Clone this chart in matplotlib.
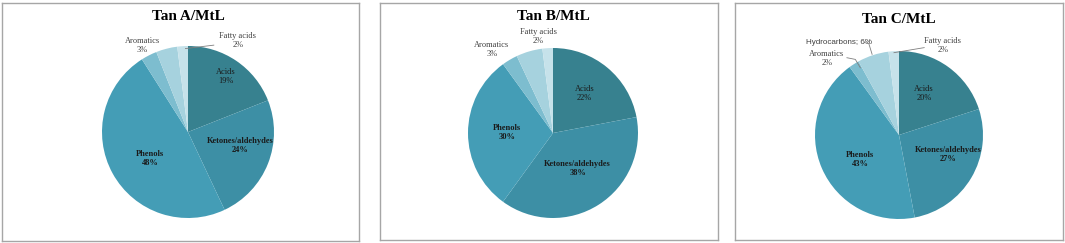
import matplotlib
matplotlib.use("Agg")
import matplotlib.pyplot as plt

# ---- data ----
categories = ["Acids", "Ketones/aldehydes", "Phenols", "Aromatics", "Hydrocarbons", "Fatty acids"]
titles = ["Tan A/MtL", "Tan B/MtL", "Tan C/MtL"]
tan_a = [19, 24, 48, 3, 4, 2]
tan_b = [22, 38, 30, 3, 5, 2]
tan_c = [20, 27, 43, 2, 6, 2]
series = [tan_a, tan_b, tan_c]

colors = ["#37818f", "#3d8fa5", "#449db6", "#7dbdcf", "#a6d2de", "#c6e2ea"]

W, H = 1065, 243
fig = plt.figure(figsize=(W / 100, H / 100), dpi=100)
fig.patch.set_facecolor("white")

# panel layout in pixels: box (x0, y0, x1, y1), pie centre (cx, cy), radius R, title pos
panels = [
    dict(box=(2, 3, 359, 241), c=(188, 132), R=86, ty=16),
    dict(box=(380, 3, 718, 240), c=(553, 133), R=85, ty=17),
    dict(box=(735, 3, 1063, 240), c=(899, 135), R=84, ty=20),
]

# label layout (offsets in radius units) per panel
label_pos = [
    {"Acids": (0.44, 0.65), "Ketones/aldehydes": (0.61, -0.16), "Phenols": (-0.44, -0.31),
     "Aromatics": (-0.53, 1.01), "Fatty acids": (0.58, 1.06)},
    {"Acids": (0.37, 0.46), "Ketones/aldehydes": (0.29, -0.42), "Phenols": (-0.54, 0.01),
     "Aromatics": (-0.72, 0.98), "Fatty acids": (-0.17, 1.14)},
    {"Acids": (0.30, 0.49), "Ketones/aldehydes": (0.58, -0.23), "Phenols": (-0.46, -0.29),
     "Aromatics": (-0.86, 0.91), "Hydrocarbons": (-0.72, 1.10), "Fatty acids": (0.52, 1.07)},
]
leaders = [
    [[(-0.03, 0.97), (0.30, 1.01)]],
    [],
    [[(-0.62, 0.92), (-0.52, 0.90), (-0.46, 0.80)],
     [(-0.41, 1.10), (-0.36, 1.09), (-0.32, 0.96)],
     [(0.30, 1.04), (-0.06, 0.98)]],
]

serif = ["Liberation Serif", "DejaVu Serif"]
bold_cats = {"Ketones/aldehydes", "Phenols"}
inside_cats = {"Acids", "Ketones/aldehydes", "Phenols"}

for i, p in enumerate(panels):
    x0, y0, x1, y1 = p["box"]
    cx, cy = p["c"]
    R = p["R"]
    ax = fig.add_axes([x0 / W, 1 - y1 / H, (x1 - x0) / W, (y1 - y0) / H])
    vals = series[i]
    ax.pie(vals, colors=colors, startangle=90, counterclock=False, radius=1.0,
           center=(0, 0), frame=True,
           wedgeprops=dict(edgecolor="none", linewidth=0))
    ax.set_xlim((x0 - cx) / R, (x1 - cx) / R)
    ax.set_ylim((cy - y1) / R, (cy - y0) / R)
    ax.set_aspect("auto")
    ax.set_xticks([])
    ax.set_yticks([])
    for s in ax.spines.values():
        s.set_color("#a6a6a6")
        s.set_linewidth(1.0)
    # title
    ax.text(0, (cy - p["ty"]) / R, titles[i], ha="center", va="center",
            fontsize=11, fontweight="bold", family=serif, color="black")
    # labels
    for cat, v in zip(categories, vals):
        if cat not in label_pos[i]:
            continue
        lx, ly = label_pos[i][cat]
        if cat == "Hydrocarbons":
            ax.text(lx, ly, f"{cat}; {v}%", ha="center", va="center", fontsize=5.8,
                    family=["Liberation Sans", "DejaVu Sans"], color="#404040")
            continue
        weight = "bold" if cat in bold_cats else "normal"
        col = "#1a1a1a" if cat in inside_cats else "#404040"
        ax.text(lx, ly, f"{cat}\n{v}%", ha="center", va="center", fontsize=6.0,
                fontweight=weight, family=serif, color=col, linespacing=1.15)
    for ln in leaders[i]:
        xs = [q[0] for q in ln]
        ys = [q[1] for q in ln]
        ax.plot(xs, ys, color="#7f7f7f", linewidth=0.6)

fig.savefig("out.png", dpi=100)
